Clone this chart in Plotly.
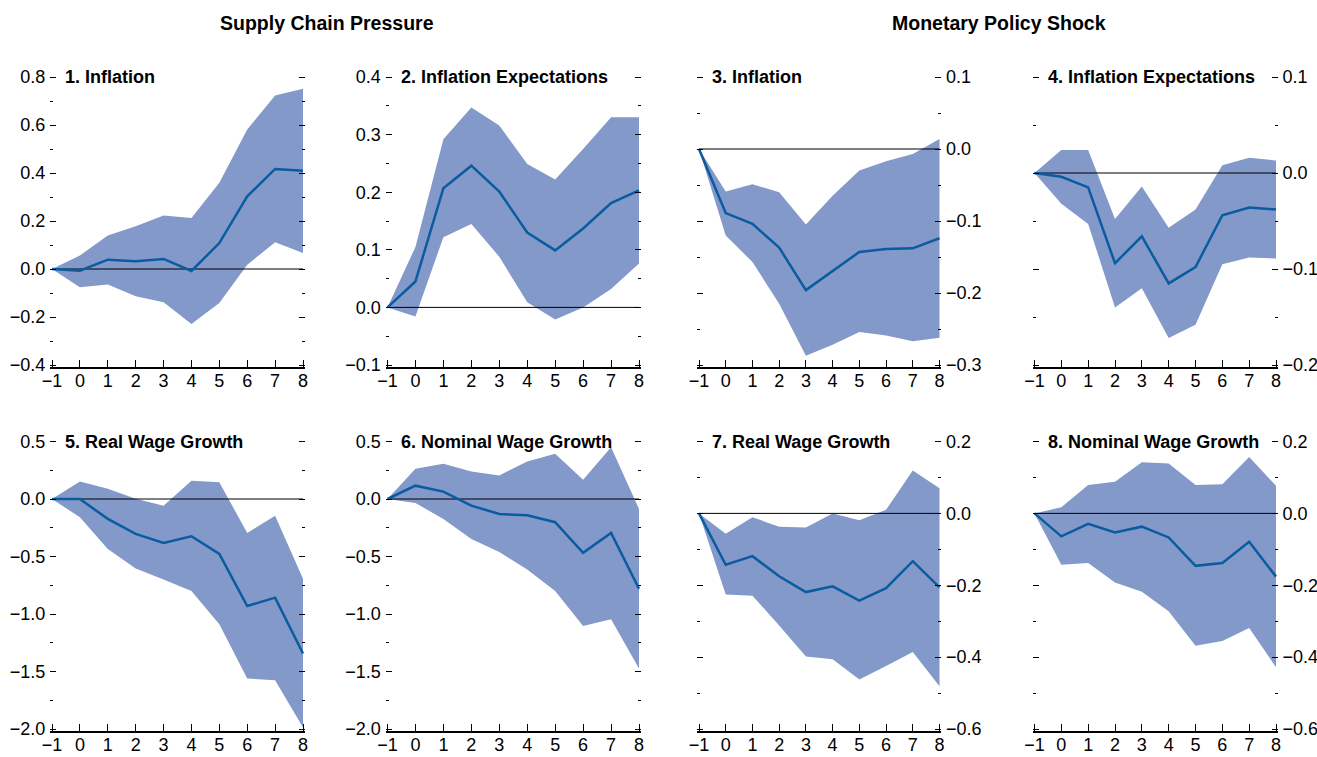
import plotly.graph_objects as go

W, H = 1317, 757
FONT = "Liberation Sans, Arial, sans-serif"
BAND = "#8399C9"
LINE = "#0A5CA0"

horizons = [-1, 0, 1, 2, 3, 4, 5, 6, 7, 8]

titles = ["1. Inflation", "2. Inflation Expectations", "3. Inflation", "4. Inflation Expectations",
          "5. Real Wage Growth", "6. Nominal Wage Growth", "7. Real Wage Growth", "8. Nominal Wage Growth"]
headers = ["Supply Chain Pressure", "Monetary Policy Shock"]

# Panel 1: Supply chain pressure -> inflation
p1_mid = [0, -0.007, 0.039, 0.032, 0.042, -0.008, 0.108, 0.303, 0.417, 0.409]
p1_up = [0, 0.056, 0.140, 0.178, 0.223, 0.213, 0.359, 0.581, 0.723, 0.751]
p1_lo = [0, -0.076, -0.065, -0.114, -0.139, -0.229, -0.142, 0.018, 0.111, 0.067]
# Panel 2: Supply chain pressure -> inflation expectations
p2_mid = [0, 0.045, 0.207, 0.246, 0.201, 0.130, 0.099, 0.137, 0.181, 0.203]
p2_up = [0, 0.105, 0.292, 0.347, 0.316, 0.249, 0.222, 0.275, 0.330, 0.330]
p2_lo = [0, -0.016, 0.122, 0.145, 0.088, 0.009, -0.021, 0.000, 0.032, 0.076]
# Panel 3: Monetary policy -> inflation
p3_mid = [0, -0.089, -0.104, -0.137, -0.196, -0.170, -0.143, -0.139, -0.138, -0.124]
p3_up = [0, -0.059, -0.049, -0.060, -0.105, -0.065, -0.030, -0.017, -0.007, 0.014]
p3_lo = [0, -0.120, -0.157, -0.215, -0.287, -0.272, -0.254, -0.259, -0.267, -0.262]
# Panel 4: Monetary policy -> inflation expectations
p4_mid = [0, -0.004, -0.015, -0.094, -0.066, -0.115, -0.098, -0.044, -0.036, -0.038]
p4_up = [0, 0.024, 0.024, -0.048, -0.014, -0.057, -0.038, 0.008, 0.016, 0.013]
p4_lo = [0, -0.032, -0.053, -0.140, -0.120, -0.172, -0.158, -0.095, -0.088, -0.089]
# Panel 5: Supply chain pressure -> real wage growth
p5_mid = [0, 0.0, -0.173, -0.303, -0.382, -0.324, -0.477, -0.931, -0.858, -1.344]
p5_up = [0, 0.153, 0.090, 0.003, -0.058, 0.159, 0.145, -0.295, -0.145, -0.694]
p5_lo = [0, -0.159, -0.434, -0.604, -0.699, -0.801, -1.090, -1.561, -1.575, -1.986]
# Panel 6: Supply chain pressure -> nominal wage growth
p6_mid = [0, 0.116, 0.064, -0.058, -0.130, -0.142, -0.202, -0.468, -0.295, -0.780]
p6_up = [0, 0.263, 0.306, 0.240, 0.205, 0.327, 0.393, 0.168, 0.451, -0.087]
p6_lo = [0, -0.035, -0.173, -0.347, -0.460, -0.613, -0.801, -1.104, -1.046, -1.474]
# Panel 7: Monetary policy -> real wage growth
p7_mid = [0, -0.143, -0.119, -0.175, -0.219, -0.203, -0.243, -0.208, -0.133, -0.206]
p7_up = [0, -0.057, -0.011, -0.037, -0.039, 0.000, -0.019, 0.010, 0.119, 0.070]
p7_lo = [0, -0.226, -0.229, -0.312, -0.398, -0.406, -0.462, -0.425, -0.386, -0.481]
# Panel 8: Monetary policy -> nominal wage growth
p8_mid = [0, -0.064, -0.029, -0.053, -0.037, -0.067, -0.146, -0.138, -0.079, -0.176]
p8_up = [0, 0.017, 0.079, 0.088, 0.142, 0.139, 0.079, 0.081, 0.157, 0.077]
p8_lo = [0, -0.143, -0.138, -0.192, -0.218, -0.272, -0.368, -0.355, -0.319, -0.428]

y_ranges = [[-0.4, 0.8], [-0.1, 0.4], [-0.3, 0.1], [-0.2, 0.1],
            [-2.0, 0.5], [-2.0, 0.5], [-0.6, 0.2], [-0.6, 0.2]]
y_dticks = [0.2, 0.1, 0.1, 0.1, 0.5, 0.5, 0.2, 0.2]

panels = [(p1_mid, p1_up, p1_lo), (p2_mid, p2_up, p2_lo), (p3_mid, p3_up, p3_lo), (p4_mid, p4_up, p4_lo),
          (p5_mid, p5_up, p5_lo), (p6_mid, p6_up, p6_lo), (p7_mid, p7_up, p7_lo), (p8_mid, p8_up, p8_lo)]

# layout geometry in pixels
col_px = [(52, 303), (387.5, 639), (699, 939.5), (1034.5, 1276)]
row_px = [(77, 365), (441.5, 729)]
EDGE = 1.6  # px of padding so that end ticks are not clipped

fig = go.Figure()
layout = dict(
    width=W, height=H, margin=dict(l=0, r=0, t=0, b=0, autoexpand=False),
    paper_bgcolor="white", plot_bgcolor="white", showlegend=False,
    font=dict(family=FONT, size=18, color="black"),
)
annotations = []

for i, (mid, up, lo) in enumerate(panels):
    r, c = divmod(i, 4)
    n = i + 1
    xs = "x" if n == 1 else f"x{n}"
    ys = "y" if n == 1 else f"y{n}"
    # band
    fig.add_trace(go.Scatter(x=horizons + horizons[::-1], y=up + lo[::-1], fill="toself",
                             fillcolor=BAND, line=dict(width=0), mode="lines",
                             hoverinfo="skip", xaxis=xs, yaxis=ys))
    # zero line
    fig.add_trace(go.Scatter(x=[horizons[0], horizons[-1]], y=[0, 0], mode="lines",
                             line=dict(color="black", width=1), hoverinfo="skip",
                             xaxis=xs, yaxis=ys))
    # point estimate
    fig.add_trace(go.Scatter(x=horizons, y=mid, mode="lines",
                             line=dict(color=LINE, width=2.5), xaxis=xs, yaxis=ys))

    x0, x1 = col_px[c]
    ytop, ybot = row_px[r]
    xdom = [(x0 - EDGE) / W, (x1 + EDGE) / W]
    ydom = [1 - (ybot + EDGE) / H, 1 - (ytop - EDGE) / H]
    xspan = horizons[-1] - horizons[0]
    xpad = EDGE / (x1 - x0) * xspan
    lo_r, hi_r = y_ranges[i]
    ypad = EDGE / (ybot - ytop) * (hi_r - lo_r)
    xk = "xaxis" if n == 1 else f"xaxis{n}"
    yk = "yaxis" if n == 1 else f"yaxis{n}"
    layout[xk] = dict(
        domain=xdom, anchor=ys, range=[horizons[0] - xpad, horizons[-1] + xpad], automargin=False,
        tickmode="array", tickvals=horizons, ticks="inside", ticklen=7,
        tickcolor="black", tickwidth=1.3, showline=True, linecolor="black", linewidth=1.5,
        showgrid=False, zeroline=False, tickfont=dict(size=18, family=FONT),
        ticklabelstandoff=-3,
    )
    d = y_dticks[i]
    side = "left" if c < 2 else "right"
    layout[yk] = dict(
        domain=ydom, anchor=xs, range=[lo_r - ypad, hi_r + ypad], side=side, automargin=False,
        tick0=0, dtick=d, tickformat=".1f", ticks="inside", ticklen=6,
        tickcolor="black", tickwidth=1.2, mirror="ticks", showline=False,
        showgrid=False, zeroline=False, tickfont=dict(size=18, family=FONT),
        ticklabelstandoff=4,
        minor=dict(dtick=d / 2, tick0=0, ticks="inside", ticklen=3, tickcolor="black",
                   tickwidth=1.2, showgrid=False),
    )
    annotations.append(dict(
        text=f"<b>{titles[i]}</b>", xref="paper", yref="paper",
        x=(x0 + 11) / W, y=1 - ytop / H, xanchor="left", yanchor="middle",
        showarrow=False, font=dict(size=18, family=FONT, color="black"),
    ))

header_x = [327, 999]
for hx, txt in zip(header_x, headers):
    annotations.append(dict(
        text=f"<b>{txt}</b>", xref="paper", yref="paper",
        x=hx / W, y=1 - 23 / H, xanchor="center", yanchor="middle",
        showarrow=False, font=dict(size=19.5, family=FONT, color="black"),
    ))

layout["annotations"] = annotations
fig.update_layout(**layout)
fig.write_html("out.html")
